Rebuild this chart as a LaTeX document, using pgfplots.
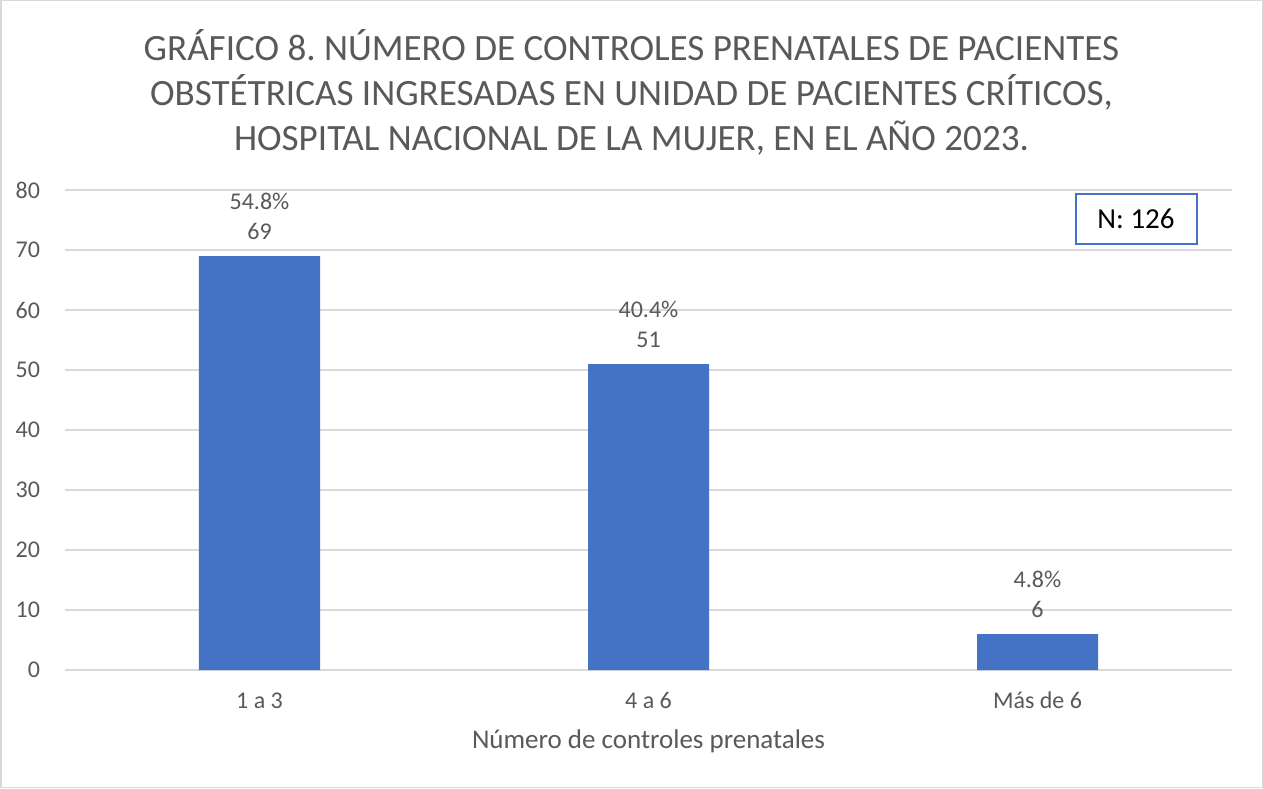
\documentclass[border=0pt]{standalone}
\usepackage{pgfplots}
\pgfplotsset{compat=1.18}
\usepackage{pgfplotstable}
\usepackage{fontspec}
\setmainfont{Carlito}
\frenchspacing

\definecolor{barblue}{HTML}{4472C4}
\definecolor{txtgray}{HTML}{595959}
\definecolor{gridgray}{HTML}{D9D9D9}

% controles prenatales: casos y porcentaje
\pgfplotstableread{
x y pct
0 69 54.8
1 51 40.4
2 6 4.8
}\datatable

\begin{document}
\begin{tikzpicture}[x=1pt,y=1pt]
% chart frame (1263 x 788 px at 0.5pt per px)
\draw[gridgray, line width=0.75pt, fill=white] (0.375,0.375) rectangle (631.125,393.625);

\node[txtgray, font=\fontsize{18.55}{22.5}\selectfont, align=center] at (315.75,348)
  {GRÁFICO 8. NÚMERO DE CONTROLES PRENATALES DE PACIENTES\\
   OBSTÉTRICAS INGRESADAS EN UNIDAD DE PACIENTES CRÍTICOS,\\
   HOSPITAL NACIONAL DE LA MUJER, EN EL AÑO 2023.};

\begin{axis}[
    at={(32.5pt,59pt)}, anchor=south west,
    scale only axis,
    width=583.5pt, height=240pt,
    xmin=-0.5, xmax=2.5,
    ymin=0, ymax=80,
    ytick={0,10,...,80},
    xtick={0,1,2},
    xticklabels={1 a 3, 4 a 6, Más de 6},
    ymajorgrids,
    grid style={gridgray, line width=0.75pt},
    axis line style={draw=none},
    tick style={draw=none},
    ticklabel style={font=\fontsize{12}{14}\selectfont, text=txtgray},
    yticklabel style={xshift=-9pt},
    xticklabel style={anchor=base, yshift=-15pt},
    /pgf/number format/assume math mode=true,
    xlabel={Número de controles prenatales},
    xlabel style={font=\fontsize{13.5}{16}\selectfont, text=txtgray,
        at={(axis description cs:0.5,0)}, anchor=base, yshift=-39pt},
    ybar,
    bar width=60.5pt,
    point meta=explicit symbolic,
    nodes near coords={\pgfplotspointmeta\%\\\pgfmathprintnumber{\pgfkeysvalueof{/data point/y}}},
    nodes near coords style={font=\fontsize{12}{15}\selectfont, text=txtgray,
        align=center, anchor=south, inner sep=3pt, yshift=5pt},
]
\addplot[fill=barblue, draw=none] table[x=x, y=y, meta=pct] {\datatable};
\end{axis}

\node[draw=barblue, line width=1pt, minimum width=60.5pt, minimum height=25pt,
      inner sep=0pt, font=\fontsize{14.5}{16}\selectfont] at (568,284.5) {N: 126};
\end{tikzpicture}
\end{document}
